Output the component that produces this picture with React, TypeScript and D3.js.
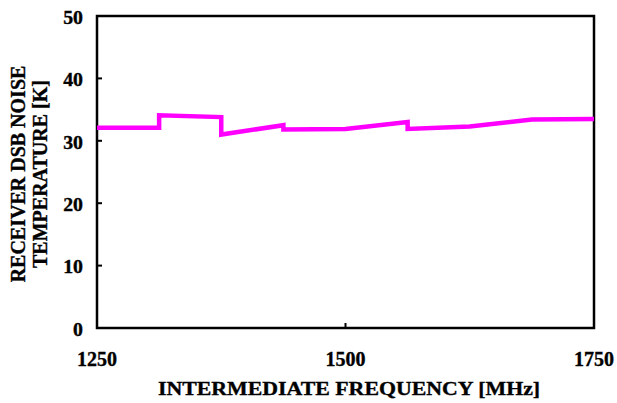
import React from "react";
import * as d3 from "d3";

const freqs = [1250, 1312.5, 1312.5, 1375, 1375, 1437.5, 1437.5, 1500, 1562.5, 1562.5, 1625, 1687.5, 1750];
const temps = [32.1, 32.1, 34.1, 33.8, 31.0, 32.5, 31.8, 31.9, 33.0, 31.9, 32.3, 33.4, 33.5];
const xTicks = [1250, 1500, 1750];
const yTicks = [0, 10, 20, 30, 40, 50];

const W = 617, H = 403;
const M = { left: 97, right: 594, top: 16, bottom: 328 };
const FONT = "'Liberation Serif', 'Times New Roman', serif";

function SText(props: { x: number; y: number; sx: number; size: number; anchor: string; children: React.ReactNode; dy?: string }) {
  const { x, y, sx, size, anchor, children, dy } = props;
  return (
    <text transform={`translate(${x},${y}) scale(${sx},1)`} dy={dy} textAnchor={anchor} fontFamily={FONT} fontWeight="bold" fontSize={size} stroke="#000" strokeWidth={0.35}>
      {children}
    </text>
  );
}

export default function App() {
  const x = d3.scaleLinear().domain([1250, 1750]).range([M.left, M.right]);
  const y = d3.scaleLinear().domain([0, 50]).range([M.bottom, M.top]);
  const data = freqs.map((f, i) => [f, temps[i]] as [number, number]);
  const line = d3.line<[number, number]>().x(d => x(d[0])).y(d => y(d[1]));
  return (
    <svg width={W} height={H} style={{ position: "absolute", left: 0, top: 0, background: "#fff" }}>
      <rect x={M.left} y={M.top} width={M.right - M.left} height={M.bottom - M.top} fill="none" stroke="#000" strokeWidth={2.5} />
      {yTicks.map(t => (
        <g key={"y" + t}>
          <line x1={M.left} x2={M.left + 5} y1={y(t)} y2={y(t)} stroke="#000" strokeWidth={2} />
          <SText x={83} y={y(t) + 1.5} sx={1.1} size={18} anchor="end" dy="0.35em">{t}</SText>
        </g>
      ))}
      {xTicks.map(t => (
        <g key={"x" + t}>
          <line x1={x(t)} x2={x(t)} y1={M.bottom} y2={M.bottom - 5} stroke="#000" strokeWidth={2} />
          <SText x={x(t)} y={366} sx={1.0} size={20} anchor="middle">{t}</SText>
        </g>
      ))}
      <path d={line(data) || ""} fill="none" stroke="#FF00FF" strokeWidth={4.5} strokeLinejoin="miter" />
      <SText x={349} y={395} sx={1.15} size={19} anchor="middle">INTERMEDIATE FREQUENCY [MHz]</SText>
      <g transform="translate(0,174) rotate(-90)">
        <text x={0} y={25} textAnchor="middle" fontFamily={FONT} fontWeight="bold" fontSize={20} stroke="#000" strokeWidth={0.35}>RECEIVER DSB NOISE</text>
        <text x={0} y={47} textAnchor="middle" fontFamily={FONT} fontWeight="bold" fontSize={20} stroke="#000" strokeWidth={0.35}>TEMPERATURE [K]</text>
      </g>
    </svg>
  );
}
